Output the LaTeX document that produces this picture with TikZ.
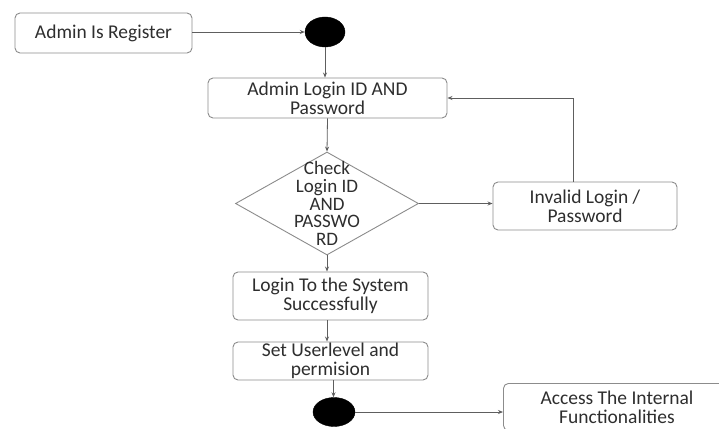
\documentclass[tikz,border=0pt]{standalone}
\usepackage{fontspec}
\setmainfont{Carlito}
\usepackage{tikz}
\usetikzlibrary{shapes.geometric,arrows.meta}
\definecolor{boxline}{HTML}{8C8C8C}
\definecolor{wire}{HTML}{5E5E5E}
\definecolor{ink}{HTML}{2E2E2E}

\begin{document}
\begin{tikzpicture}[x=1pt,y=-1pt,
    font=\fontsize{19.5}{19}\selectfont,text=ink,
    state/.style={draw=boxline,line width=0.9pt,rounded corners=5pt,align=center,inner sep=0pt},
    blob/.style={ellipse,fill=black,draw=black,inner sep=0pt,minimum width=40pt,minimum height=30pt},
    choice/.style={diamond,draw=boxline,line width=0.9pt,inner sep=0pt,minimum width=183pt,minimum height=103pt},
    flow/.style={draw=wire,line width=0.8pt,-{Stealth[length=5pt,width=4pt]}}]
            \clip (0,0) rectangle (719,428);
            \fill[white] (0,0) rectangle (719,428);
            \node[state,minimum width=177pt,minimum height=40pt] (register) at (103.5,33) {Admin Is Register};
            \node[blob] (start) at (325,32) {};
            \node[state,minimum width=239pt,minimum height=40pt] (login) at (327.5,98) {Admin Login ID AND\\Password};
            \node[choice,label={[align=center,font=\fontsize{19}{17.8}\selectfont]center:Check\\Login ID\\AND\\PASSWO\\RD}] (check) at (327,203.5) {};
            \node[state,minimum width=184pt,minimum height=48pt] (invalid) at (585,206) {Invalid Login /\\Password};
            \node[state,minimum width=195pt,minimum height=48pt] (success) at (330.5,296) {Login To the System\\Successfully};
            \node[state,minimum width=195pt,minimum height=38pt] (level) at (330.5,361) {Set Userlevel and\\permision};
            \node[blob,minimum width=42pt,minimum height=29pt] (stop) at (334,412) {};
            \node[state,minimum width=227pt,minimum height=47pt,anchor=north west] (access) at (503,383) {Access The Internal\\Functionalities};

            \draw[flow] (register.east |- start.west) -- (start.west);
            \draw[flow] (start.south) -- (start.south |- login.north);
            \draw[flow] (login.south) -- (check.north);
            \draw[flow] (check.east) -- (check.east -| invalid.west);
            \draw[flow] ([xshift=-12pt]invalid.north) |- (login.east);
            \draw[flow] (check.south) -- (check.south |- success.north);
            \draw[flow] (success.south -| check.south) -- (level.north -| check.south);
            \draw[flow] ([xshift=3pt]level.south) -- ([xshift=3pt]level.south |- stop.north);
            \draw[flow] (stop.east) -- (stop.east -| access.west);
        \end{tikzpicture}
\end{document}
